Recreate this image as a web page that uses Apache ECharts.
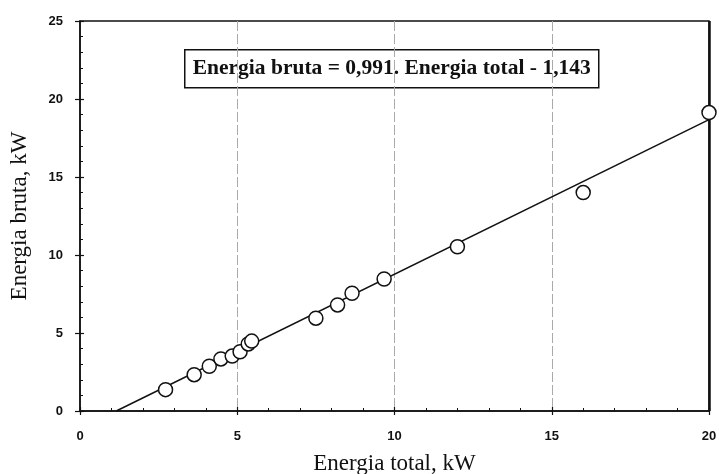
<!DOCTYPE html>
<html>
<head>
<meta charset="utf-8">
<script src="https://cdn.jsdelivr.net/npm/echarts@6/dist/echarts.min.js"></script>
<style>html,body{margin:0;padding:0;background:#fff;}#c{width:719px;height:474px;}</style>
</head>
<body>
<div id="c"></div>
<script>
// Data
const totalX = [2.72, 3.63, 4.11, 4.48, 4.84, 5.09, 5.35, 5.46, 7.5, 8.19, 8.65, 9.67, 12.0, 16.0, 20.0];
const brutaY = [1.37, 2.33, 2.87, 3.34, 3.52, 3.80, 4.30, 4.48, 5.95, 6.80, 7.55, 8.46, 10.53, 14.0, 19.13];
const fitX = [1.153, 20];
const fitY = [0, 18.677];
const xTicks = [0, 5, 10, 15, 20];
const yTicks = [0, 5, 10, 15, 20, 25];
const equationText = 'Energia bruta = 0,991. Energia total - 1,143';
const xName = 'Energia total, kW';
const yName = 'Energia bruta, kW';

const chart = echarts.init(document.getElementById('c'), null, {renderer: 'canvas'});
const tickLabel = {fontFamily: 'Liberation Sans, Arial', fontWeight: 'bold', fontSize: 13, color: '#111'};
const nameStyle = {fontFamily: 'Liberation Serif, Times New Roman', fontSize: 23, color: '#111'};

chart.setOption({
  backgroundColor: '#fff',
  animation: false,
  grid: {left: 80, right: 10, top: 21, bottom: 63, containLabel: false, outerBoundsMode: 'none', show: true, borderColor: '#111', borderWidth: 1.5, backgroundColor: 'transparent'},
  xAxis: [{
    type: 'value', min: 0, max: 20, interval: 5,
    axisLine: {show: true, onZero: false, lineStyle: {color: '#111', width: 1.5}},
    axisTick: {show: true, inside: true, length: 4, lineStyle: {color: '#111', width: 1.2}},
    minorTick: {show: true, splitNumber: 5, length: 3, lineStyle: {color: '#111', width: 1}},
    axisLabel: {show: false},
    splitLine: {show: true, lineStyle: {color: ['rgba(0,0,0,0)', '#aaa', '#aaa', '#aaa', 'rgba(0,0,0,0)'], width: 1, type: [10, 3]}},
    name: ''
  }, {
    type: 'value', min: 0, max: 20, interval: 5, position: 'bottom',
    axisLine: {show: false},
    axisTick: {show: true, inside: false, length: 4, lineStyle: {color: '#111', width: 1.2}},
    axisLabel: Object.assign({margin: 19, formatter: v => xTicks.includes(v) ? String(v) : ''}, tickLabel),
    splitLine: {show: false},
    name: xName, nameLocation: 'middle', nameGap: 41, nameTextStyle: nameStyle
  }],
  yAxis: [{
    type: 'value', min: 0, max: 25, interval: 5,
    axisLine: {show: true, onZero: false, lineStyle: {color: '#111', width: 1.5}},
    axisTick: {show: true, inside: true, length: 4, lineStyle: {color: '#111', width: 1.2}},
    minorTick: {show: true, splitNumber: 5, length: 3, lineStyle: {color: '#111', width: 1}},
    axisLabel: {show: false},
    splitLine: {show: false}
  }, {
    type: 'value', min: 0, max: 25, interval: 5, position: 'left',
    axisLine: {show: false},
    axisTick: {show: true, inside: false, length: 5, lineStyle: {color: '#111', width: 1.2}},
    axisLabel: Object.assign({margin: 17, formatter: v => yTicks.includes(v) ? String(v) : ''}, tickLabel),
    splitLine: {show: false},
    name: yName, nameLocation: 'middle', nameGap: 49, nameTextStyle: nameStyle
  }],
  series: [{
    type: 'line',
    data: fitX.map((x, i) => [x, fitY[i]]),
    showSymbol: false,
    lineStyle: {color: '#111', width: 1.5},
    z: 2,
    markLine: {
      silent: true, symbol: 'none', label: {show: false},
      lineStyle: {color: '#111', width: 2.5, type: 'solid'},
      data: [{xAxis: xTicks[xTicks.length - 1]}]
    }
  }, {
    type: 'scatter',
    data: totalX.map((x, i) => [x, brutaY[i]]),
    symbol: 'circle', symbolSize: 14,
    itemStyle: {color: '#fff', borderColor: '#111', borderWidth: 1.5, opacity: 1},
    z: 20
  }],
  graphic: [{
    type: 'group', left: 184, top: 49,
    children: [{
      type: 'rect', shape: {x: 0, y: 0, width: 414, height: 38},
      style: {fill: '#fff', stroke: '#111', lineWidth: 1.5}
    }, {
      type: 'text', x: 207, y: 19,
      style: {text: equationText, fill: '#111', font: 'bold 21.5px "Liberation Serif", "Times New Roman", serif', textAlign: 'center', textVerticalAlign: 'middle'}
    }]
  }]
});
</script>
</body>
</html>
